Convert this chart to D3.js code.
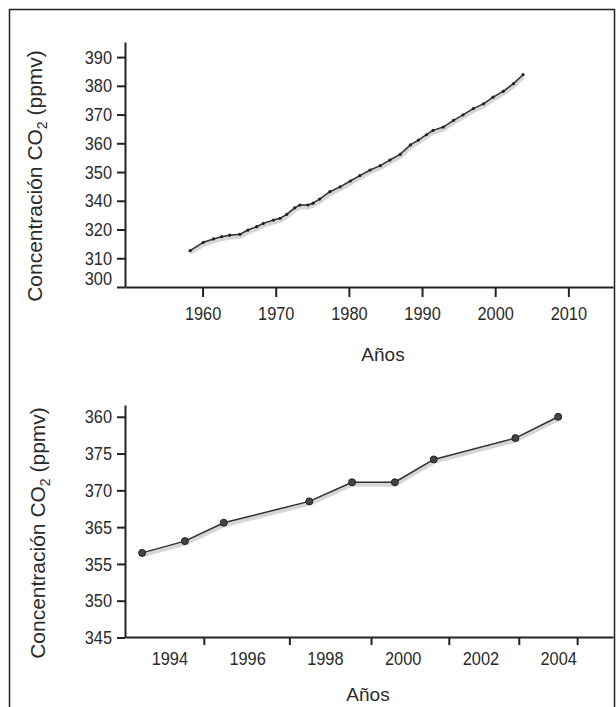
<!DOCTYPE html>
<html>
<head>
<meta charset="utf-8">
<script src="https://cdn.jsdelivr.net/npm/d3@7"></script>
<style>
body { margin: 0; background: #fff; }
svg text { font-family: "Liberation Sans", Arial, sans-serif; fill: #2a2a2a; }
</style>
</head>
<body>
<div id="chart"></div>
<script>
// Upper panel: Mauna Loa style record
var upperYears = [1958.3, 1960.1, 1961.5, 1962.6, 1963.7, 1965.1, 1966.2, 1967.4, 1968.3, 1969.7,
    1970.6, 1971.5, 1972.6, 1973.3, 1974.4, 1975.1, 1976.0, 1977.4, 1978.8, 1980.2,
    1981.5, 1982.9, 1984.3, 1985.6, 1987.0, 1988.4, 1989.5, 1990.6, 1991.5, 1992.9,
    1994.3, 1995.6, 1997.0, 1998.4, 1999.7, 2001.1, 2002.5, 2003.8];
var upperCo2 = [314.2, 317.5, 318.8, 319.7, 320.3, 320.6, 322.3, 323.6, 324.9, 326.2,
    326.9, 328.4, 331.0, 332.1, 332.1, 332.8, 334.4, 337.3, 339.2, 341.5,
    343.6, 345.8, 347.5, 349.7, 351.9, 355.6, 357.5, 359.6, 361.3, 362.6,
    365.2, 367.4, 369.8, 371.7, 374.3, 376.6, 379.6, 383.1];
var upperXTicks = [1960, 1970, 1980, 1990, 2000, 2010];
var upperYLabels = ['300', '310', '320', '340', '350', '360', '370', '380', '390'];

// Lower panel: annual points 1993-2004
var lowerYears = [1993.3, 1994.4, 1995.4, 1997.6, 1998.7, 1999.8, 2000.8, 2002.9, 2004.0];
var lowerCo2 = [356.5, 358.1, 360.6, 363.5, 366.1, 366.1, 369.2, 372.1, 375.0];
var lowerXLabels = [1994, 1996, 1998, 2000, 2002, 2004];
var lowerXTickMarks = [1994.9, 1997.1, 1999.2, 2001.2, 2003.0, 2004.5];
var lowerYLabels = ['345', '350', '355', '365', '370', '375', '360'];

var width = 616, height = 707;

var svg = d3.select('#chart')
    .append('svg')
    .attr('width', width)
    .attr('height', height);

// outer frame
svg.append('rect')
    .attr('x', 9.5)
    .attr('y', 9.5)
    .attr('width', 605)
    .attr('height', 720)
    .attr('fill', 'none')
    .attr('stroke', '#222')
    .attr('stroke-width', 1.5);

// squeeze text horizontally, the original uses a narrow face
function narrow(sel, k) {
    sel.each(function() {
        var w = this.getComputedTextLength();
        d3.select(this).attr('textLength', w * k).attr('lengthAdjust', 'spacingAndGlyphs');
    });
}

function styleAxis(g) {
    g.select('.domain').attr('stroke', '#222').attr('stroke-width', 2);
    g.selectAll('.tick line').attr('stroke', '#222').attr('stroke-width', 2);
    g.selectAll('.tick text').attr('font-size', 19).attr('fill', '#2a2a2a')
        .attr('font-family', '"Liberation Sans", Arial, sans-serif')
        .call(narrow, 0.86);
}

function yTitle(x, y) {
    var t = svg.append('text')
        .attr('transform', 'translate(' + x + ',' + y + ') rotate(-90)')
        .attr('text-anchor', 'middle')
        .attr('font-size', 21);
    t.append('tspan').text('Concentración CO');
    t.append('tspan').attr('font-size', 14).attr('dy', 5).text('2');
    t.append('tspan').attr('dy', -5).text(' (ppmv)');
}

function drawSeries(xs, ys, xv, yv, markers) {
    var pts = xv.map(function(d, i) { return [d, yv[i]]; });
    var line = d3.line()
        .x(function(d) { return xs(d[0]); })
        .y(function(d) { return ys(d[1]); });
    // grey smudge under the record
    svg.append('path')
        .datum(pts)
        .attr('d', line)
        .attr('transform', 'translate(0,2)')
        .attr('fill', 'none')
        .attr('stroke', '#bbb')
        .attr('stroke-width', 5)
        .attr('stroke-linejoin', 'round')
        .attr('opacity', 0.6);
    svg.append('path')
        .datum(pts)
        .attr('d', line)
        .attr('fill', 'none')
        .attr('stroke', '#333')
        .attr('stroke-width', 1.5)
        .attr('stroke-linejoin', 'round');
    svg.append('g')
        .selectAll('circle')
        .data(pts)
        .enter()
        .append('circle')
        .attr('cx', function(d) { return xs(d[0]); })
        .attr('cy', function(d) { return ys(d[1]); })
        .attr('r', markers ? 3.5 : 1.6)
        .attr('fill', markers ? '#444' : '#222')
        .attr('stroke', markers ? '#222' : 'none');
}

// ---------- upper panel ----------
var x1 = d3.scaleLinear().domain([1949.4, 2016.1]).range([125, 613]);
var y1 = d3.scaleLinear().domain([300, 395.9]).range([287, 42]);
var y1Ticks = d3.range(upperYLabels.length).map(function(i) { return 300 + i * 90 / (upperYLabels.length - 1); });

svg.append('g')
    .attr('transform', 'translate(0,287)')
    .call(d3.axisBottom(x1).tickValues(upperXTicks).tickFormat(d3.format('d')).tickSize(10).tickSizeOuter(0).tickPadding(10))
    .call(styleAxis);

svg.append('g')
    .attr('transform', 'translate(125,0)')
    .call(d3.axisLeft(y1).tickValues(y1Ticks).tickFormat(function(d, i) { return upperYLabels[i]; }).tickSize(8).tickSizeOuter(0).tickPadding(5))
    .call(styleAxis)
    .call(function(g) {
        // the bottom label sits a little above the axis line
        g.selectAll('.tick text').filter(function(d, i) { return i === 0; }).attr('dy', '-0.12em');
    });

svg.append('text')
    .attr('x', 383)
    .attr('y', 361)
    .attr('text-anchor', 'middle')
    .attr('font-size', 19)
    .text('Años');

yTitle(42, 176);
drawSeries(x1, y1, upperYears, upperCo2, false);

// ---------- lower panel ----------
var x2 = d3.scaleLinear().domain([1992.86, 2005.41]).range([125, 613]);
var y2 = d3.scaleLinear().domain([345, 376.6]).range([637.5, 405]);
var y2Ticks = d3.range(lowerYLabels.length).map(function(i) { return 345 + i * 5; });

var xAxis2 = svg.append('g')
    .attr('transform', 'translate(0,637)');
xAxis2.call(d3.axisBottom(x2).tickValues(lowerXLabels).tickFormat(d3.format('d')).tickSize(0).tickSizeOuter(0).tickPadding(15))
    .call(styleAxis);
xAxis2.selectAll('.mark')
    .data(lowerXTickMarks)
    .enter()
    .append('line')
    .attr('class', 'mark')
    .attr('x1', function(d) { return x2(d); })
    .attr('x2', function(d) { return x2(d); })
    .attr('y1', 0)
    .attr('y2', 8)
    .attr('stroke', '#222')
    .attr('stroke-width', 2);

svg.append('g')
    .attr('transform', 'translate(125,0)')
    .call(d3.axisLeft(y2).tickValues(y2Ticks).tickFormat(function(d, i) { return lowerYLabels[i]; }).tickSize(8).tickSizeOuter(0).tickPadding(5))
    .call(styleAxis);

svg.append('text')
    .attr('x', 368)
    .attr('y', 701)
    .attr('text-anchor', 'middle')
    .attr('font-size', 19)
    .text('Años');

yTitle(45, 533);
drawSeries(x2, y2, lowerYears, lowerCo2, true);
</script>
</body>
</html>
